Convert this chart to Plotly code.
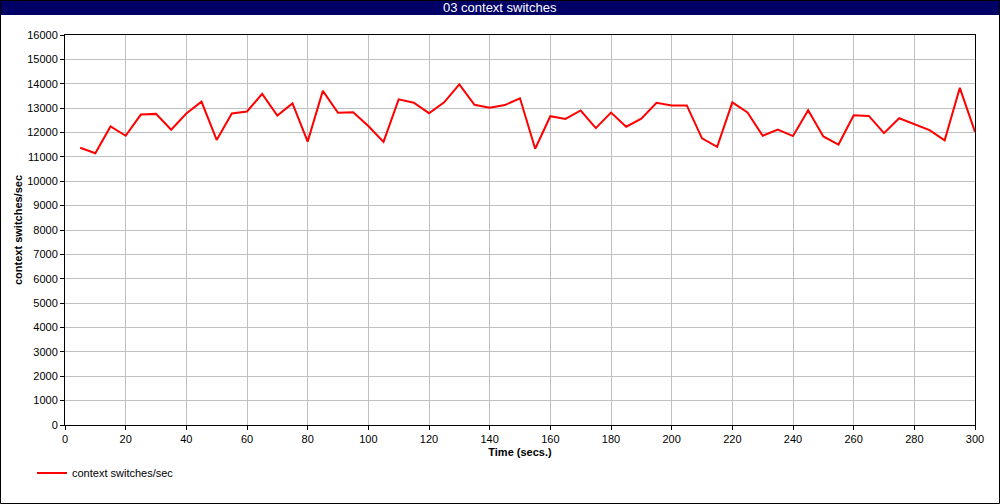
import plotly.graph_objects as go

time_secs = list(range(5, 301, 5))
context_switches = [
    11373, 11147, 12250, 11867, 12736, 12764, 12111, 12778, 13264, 11693,
    12778, 12861, 13583, 12694, 13194, 11627, 13708, 12806, 12833, 12264,
    11613, 13361, 13222, 12792, 13236, 13972, 13139, 13014, 13125, 13403,
    11333, 12667, 12556, 12903, 12181, 12819, 12236, 12569, 13222, 13111,
    13111, 11760, 11413, 13236, 12819, 11867, 12120, 11853, 12917, 11840,
    11507, 12708, 12681, 11973, 12583, 12347, 12097, 11680, 13833, 12027,
]
x_ticks = list(range(0, 301, 20))
y_ticks = list(range(0, 16001, 1000))

W, H = 1000, 504
L, R, T, B = 65, 25, 35, 79
pw, ph = W - L - R, H - T - B

def px(x):
    return (x - L) / pw

def py(y):
    return (H - B - y) / ph

FONT = "Liberation Sans, Arial, sans-serif"

fig = go.Figure()
fig.add_trace(go.Scatter(
    x=time_secs, y=context_switches, mode="lines",
    name="context switches/sec",
    line=dict(color="#ff0000", width=2),
))

fig.update_layout(
    width=W, height=H,
    margin=dict(l=L, r=R, t=T, b=B),
    paper_bgcolor="white", plot_bgcolor="white",
    font=dict(family=FONT, size=11, color="black"),
    showlegend=True,
    legend=dict(
        x=px(32), y=py(473), xanchor="left", yanchor="middle",
        orientation="h", font=dict(family=FONT, size=11, color="black"),
        bgcolor="rgba(0,0,0,0)", itemwidth=30,
    ),
    xaxis=dict(
        range=[0, 300], tickvals=x_ticks, ticktext=[str(v) for v in x_ticks],
        showgrid=True, gridcolor="#c0c0c0", gridwidth=1,
        showline=True, linecolor="black", linewidth=1, mirror=True,
        ticks="outside", ticklen=4, tickcolor="black", zeroline=False,
        title=dict(text="<b>Time (secs.)</b>", standoff=4,
                   font=dict(family=FONT, size=11)),
    ),
    yaxis=dict(
        range=[0, 16000], tickvals=y_ticks, ticktext=[str(v) for v in y_ticks],
        showgrid=True, gridcolor="#c0c0c0", gridwidth=1,
        showline=True, linecolor="black", linewidth=1, mirror=True,
        ticks="outside", ticklen=4, tickcolor="black", zeroline=False,
        title=dict(text="<b>context switches/sec</b>", standoff=2,
                   font=dict(family=FONT, size=11)),
    ),
    shapes=[
        dict(type="rect", xref="paper", yref="paper",
             x0=px(0), x1=px(W), y0=py(15), y1=py(0),
             fillcolor="#000066", line=dict(width=0), layer="above"),
        dict(type="rect", xref="paper", yref="paper",
             x0=px(0.5), x1=px(W - 0.5), y0=py(H - 0.5), y1=py(0.5),
             fillcolor="rgba(0,0,0,0)", line=dict(color="black", width=1),
             layer="above"),
    ],
    annotations=[
        dict(text="03 context switches", xref="paper", yref="paper",
             x=px(W / 2), y=py(7.5), xanchor="center", yanchor="middle",
             showarrow=False, font=dict(family=FONT, size=13, color="white")),
    ],
)

fig.write_html(
    "out.html",
    config={"displayModeBar": False},
    post_script="document.body.style.margin='0';document.body.style.overflow='hidden';",
)
